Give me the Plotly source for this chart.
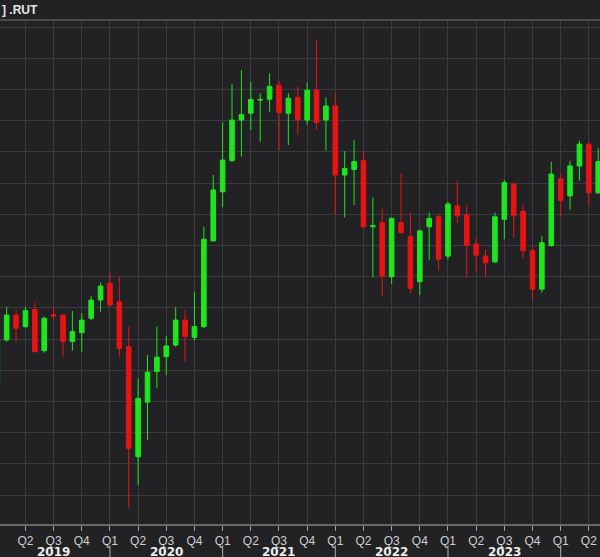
import plotly.graph_objects as go

# ---- data (monthly .RUT candles) ----
months = [
    "2019-01", "2019-02", "2019-03", "2019-04", "2019-05", "2019-06",
    "2019-07", "2019-08", "2019-09", "2019-10", "2019-11", "2019-12",
    "2020-01", "2020-02", "2020-03", "2020-04", "2020-05", "2020-06",
    "2020-07", "2020-08", "2020-09", "2020-10", "2020-11", "2020-12",
    "2021-01", "2021-02", "2021-03", "2021-04", "2021-05", "2021-06",
    "2021-07", "2021-08", "2021-09", "2021-10", "2021-11", "2021-12",
    "2022-01", "2022-02", "2022-03", "2022-04", "2022-05", "2022-06",
    "2022-07", "2022-08", "2022-09", "2022-10", "2022-11", "2022-12",
    "2023-01", "2023-02", "2023-03", "2023-04", "2023-05", "2023-06",
    "2023-07", "2023-08", "2023-09", "2023-10", "2023-11", "2023-12",
    "2024-01", "2024-02", "2024-03", "2024-04", "2024-05",
]
opens = [
    1347, 1497, 1577, 1540, 1595, 1463, 1578, 1577, 1492, 1521, 1567, 1625,
    1679, 1620, 1476, 1123, 1298, 1396, 1444, 1481, 1561, 1506, 1540, 1815,
    1972, 2072, 2202, 2224, 2266, 2269, 2314, 2224, 2275, 2202, 2298, 2202,
    2247, 2026, 2044, 2072, 1860, 1873, 1700, 1873, 1828, 1684, 1860, 1892,
    1766, 1927, 1898, 1805, 1766, 1748, 1884, 1997, 1910, 1783, 1660, 1800,
    2014, 1959, 2055, 2125, 1969,
]
highs = [
    1510, 1604, 1593, 1604, 1617, 1572, 1603, 1580, 1590, 1583, 1638, 1682,
    1714, 1700, 1540, 1374, 1449, 1540, 1510, 1602, 1593, 1652, 1860, 2026,
    2194, 2318, 2362, 2325, 2288, 2352, 2328, 2288, 2309, 2322, 2459, 2275,
    2288, 2103, 2138, 2104, 1954, 1919, 1890, 2031, 1905, 1850, 1905, 1903,
    1940, 2007, 1930, 1823, 1786, 1905, 2010, 2000, 1930, 1800, 1830, 2069,
    2030, 2072, 2136, 2130, 2112,
]
lows = [
    1330, 1492, 1492, 1535, 1455, 1456, 1561, 1444, 1463, 1460, 1561, 1588,
    1605, 1444, 958, 1032, 1177, 1342, 1385, 1476, 1428, 1495, 1536, 1812,
    1924, 2068, 2085, 2170, 2133, 2229, 2104, 2122, 2154, 2186, 2170, 2104,
    1898, 1890, 1930, 1855, 1698, 1636, 1677, 1838, 1647, 1641, 1754, 1719,
    1755, 1871, 1695, 1716, 1698, 1743, 1820, 1826, 1759, 1628, 1649, 1796,
    1895, 1916, 2008, 1927, 1965,
]
closes = [
    1502, 1577, 1535, 1591, 1460, 1567, 1574, 1492, 1524, 1561, 1625, 1670,
    1609, 1470, 1150, 1310, 1394, 1442, 1478, 1561, 1508, 1540, 1820, 1978,
    2074, 2202, 2220, 2268, 2268, 2310, 2226, 2272, 2204, 2298, 2194, 2247,
    2026, 2047, 2069, 1860, 1863, 1702, 1887, 1841, 1663, 1847, 1887, 1756,
    1933, 1895, 1801, 1769, 1745, 1892, 2002, 1895, 1783, 1660, 1809, 2029,
    1944, 2055, 2125, 1969, 2069,
]
quarter_labels = ["Q1", "Q2", "Q3", "Q4"]
years = ["2019", "2020", "2021", "2022", "2023"]
title_text = "] .RUT"

# ---- styling ----
BG = "#222224"
GRID = "#3b3b3d"
GREEN = "#1ee61e"
RED = "#e81414"
FONT = "Liberation Sans"

x = list(range(len(months)))
tickvals = list(range(0, len(months) + 3, 3))
ticktext = [quarter_labels[(v // 3) % 4] for v in tickvals]

fig = go.Figure(
    go.Candlestick(
        x=x, open=opens, high=highs, low=lows, close=closes,
        increasing=dict(line=dict(color=GREEN, width=1), fillcolor=GREEN),
        decreasing=dict(line=dict(color=RED, width=1), fillcolor=RED),
        whiskerwidth=0,
        hoverinfo="skip",
        showlegend=False,
    )
)

for k, yr in enumerate(years):
    fig.add_annotation(
        x=6 + 12 * k, xref="x", y=0, yref="paper", yshift=-28,
        text="<b>%s</b>" % yr, showarrow=False,
        font=dict(family="DejaVu Sans", size=12, color="#eeeeee"),
        xanchor="center", yanchor="middle",
    )
    fig.add_shape(
        type="line", xref="x", yref="paper",
        x0=12 * k, x1=12 * k, y0=-0.042, y1=-0.075,
        line=dict(color="#b0b0b0", width=1),
    )
fig.add_shape(
    type="line", xref="x", yref="paper",
    x0=12 * len(years), x1=12 * len(years), y0=-0.042, y1=-0.075,
    line=dict(color="#b0b0b0", width=1),
)

fig.add_shape(
    type="line", xref="paper", yref="paper", x0=0, x1=1, y0=1, y1=1,
    line=dict(color="#707070", width=1),
)
fig.add_annotation(
    x=0, xref="paper", y=1, yref="paper", yshift=10,
    text="<b>%s</b>" % title_text, showarrow=False,
    font=dict(family=FONT, size=12, color="#e6e6e6"),
    xanchor="left", yanchor="middle",
)

fig.update_layout(
    width=600, height=557,
    margin=dict(l=0, r=0, t=20, b=33),
    paper_bgcolor=BG, plot_bgcolor=BG,
    xaxis=dict(
        range=[0.29, 64.19],
        tickmode="array", tickvals=tickvals, ticktext=ticktext,
        ticks="outside", ticklen=5, tickcolor="#9a9a9a",
        tickfont=dict(family=FONT, size=12, color="#d0d0d0"),
        showgrid=True, gridcolor=GRID, gridwidth=1,
        showline=True, linecolor="#6a6a6a", linewidth=2,
        zeroline=False,
        rangeslider=dict(visible=False),
        fixedrange=True,
    ),
    yaxis=dict(
        range=[907.4, 2522.8],
        tick0=0, dtick=100,
        showticklabels=False, ticks="",
        showgrid=True, gridcolor=GRID, gridwidth=1,
        zeroline=False, showline=False,
        fixedrange=True,
    ),
)

fig.write_html("out.html")
